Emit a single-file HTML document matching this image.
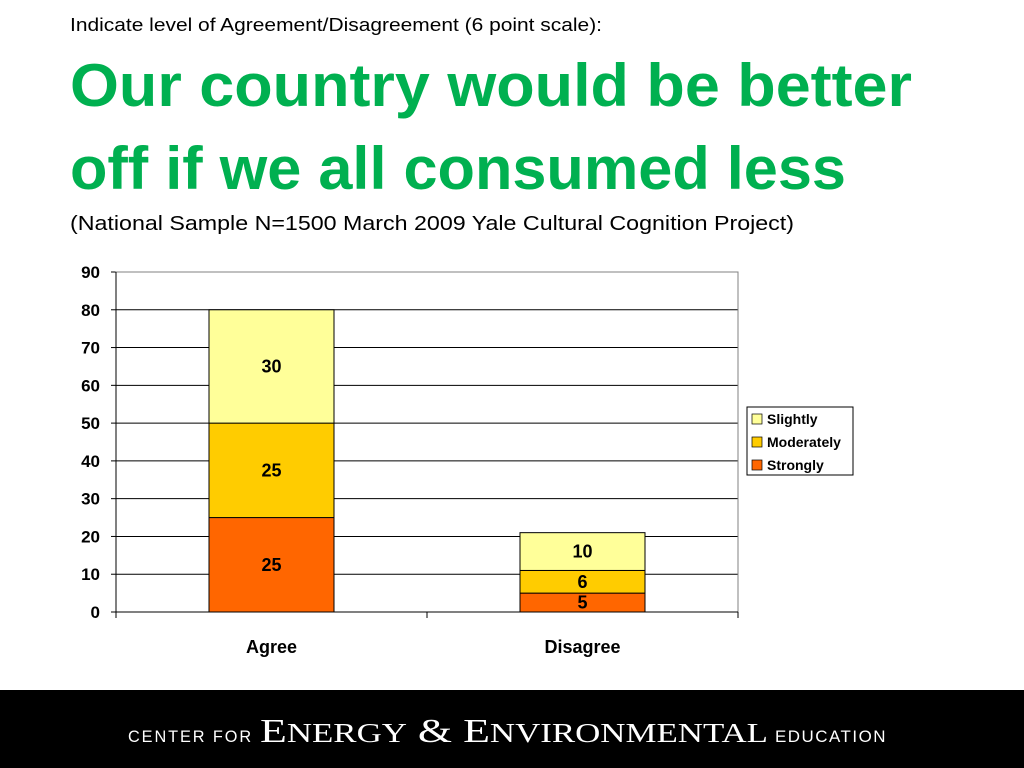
<!DOCTYPE html>
<html><head><meta charset="utf-8"><style>
body{margin:0;background:#fff;width:1024px;height:768px;overflow:hidden}
svg{display:block}
</style></head><body>
<svg id="s" width="1024" height="768" xmlns="http://www.w3.org/2000/svg" font-family="Liberation Sans, sans-serif">
<text x="70" y="31" font-size="18" textLength="532" lengthAdjust="spacingAndGlyphs">Indicate level of Agreement/Disagreement (6 point scale):</text>
<text x="70" y="106" font-size="60" font-weight="bold" fill="#00b050" textLength="842" lengthAdjust="spacingAndGlyphs">Our country would be better</text>
<text x="70" y="189" font-size="60" font-weight="bold" fill="#00b050" textLength="776" lengthAdjust="spacingAndGlyphs">off if we all consumed less</text>
<text x="70" y="230" font-size="20" textLength="724" lengthAdjust="spacingAndGlyphs">(National Sample N=1500 March 2009 Yale Cultural Cognition Project)</text>
<g id="chart"></g>
<g>
<rect x="747" y="407" width="106" height="68" fill="#fff" stroke="#000" stroke-width="1"/>
<rect x="752" y="414" width="10" height="10" fill="#ffff99" stroke="#000" stroke-width="0.7"/>
<text x="767" y="424" font-size="14" font-weight="bold">Slightly</text>
<rect x="752" y="437" width="10" height="10" fill="#ffcc00" stroke="#000" stroke-width="0.7"/>
<text x="767" y="447" font-size="14" font-weight="bold">Moderately</text>
<rect x="752" y="460" width="10" height="10" fill="#ff6600" stroke="#000" stroke-width="0.7"/>
<text x="767" y="470" font-size="14" font-weight="bold">Strongly</text>
</g>
<rect x="0" y="690" width="1024" height="78" fill="#000"/>
<g font-family="Liberation Serif, serif" fill="#fff">
<text x="128" y="742" font-family="Liberation Sans, sans-serif" font-size="17" letter-spacing="2" textLength="125" lengthAdjust="spacingAndGlyphs">CENTER FOR</text>
<text x="260" y="742" font-size="34" textLength="508" lengthAdjust="spacingAndGlyphs">E<tspan font-size="27">NERGY</tspan> &amp; E<tspan font-size="27">NVIRONMENTAL</tspan></text>
<text x="775" y="742" font-family="Liberation Sans, sans-serif" font-size="17" letter-spacing="1.5" textLength="112" lengthAdjust="spacingAndGlyphs">EDUCATION</text>
</g>
</svg>
<script>
const categories=["Agree","Disagree"];
const strongly=[25,5];
const moderately=[25,6];
const slightly=[30,10];
const yTicks=[0,10,20,30,40,50,60,70,80,90];
const NS="http://www.w3.org/2000/svg";
const g=document.getElementById('chart');
const x0=116,x1=738,y0=612,y1=272,yMax=90;
const y=v=>y0-(v/yMax)*(y0-y1);
const band=(x1-x0)/categories.length;
const xc=i=>x0+band*(i+0.5);
function mk(t,a){const e=document.createElementNS(NS,t);for(const k in a)e.setAttribute(k,a[k]);g.appendChild(e);return e;}
yTicks.forEach(t=>{
 if(t>0){const l=mk('line',{x1:x0,x2:x1,y1:y(t),y2:y(t),stroke:'#000','stroke-width':1});
 
 }
 const tk=mk('line',{x1:x0-5,x2:x0,y1:y(t),y2:y(t),stroke:'#000'});
 
 
 const tx=mk('text',{x:x0-16,y:y(t)+6,'font-size':17,'font-weight':'bold','text-anchor':'end'});
 tx.textContent=t;
 
 
});
const frame=mk('rect',{x:x0,y:y1,width:x1-x0,height:y0-y1,fill:'none',stroke:'#808080'});


const ax=mk('line',{x1:x0,x2:x1,y1:y0,y2:y0,stroke:'#000'});


const ay=mk('line',{x1:x0,x2:x0,y1:y1,y2:y0,stroke:'#000'});


for(let i=0;i<=categories.length;i++){
 const t=mk('line',{x1:x0+band*i,x2:x0+band*i,y1:y0,y2:y0+6,stroke:'#000'});
 
 
}
const series=[["strongly",strongly,"#ff6600"],["moderately",moderately,"#ffcc00"],["slightly",slightly,"#ffff99"]];
const bw=125;
categories.forEach((c,i)=>{
 let base=0;
 series.forEach(([n,arr,col])=>{
  const v=arr[i];
  const r=mk('rect',{x:xc(i)-bw/2,y:y(base+v),width:bw,height:y(base)-y(base+v),fill:col,stroke:'#000','stroke-width':1});
  
  
  const lbl=mk('text',{x:xc(i),y:y(base+v/2)+6,'font-size':18,'font-weight':'bold','text-anchor':'middle'});
  lbl.textContent=v;
  
  
  base+=v;
 });
 const cl=mk('text',{x:xc(i),y:y0+41,'font-size':18,'font-weight':'bold','text-anchor':'middle'});
 cl.textContent=c;
 
 
});
</script>
</body></html>
